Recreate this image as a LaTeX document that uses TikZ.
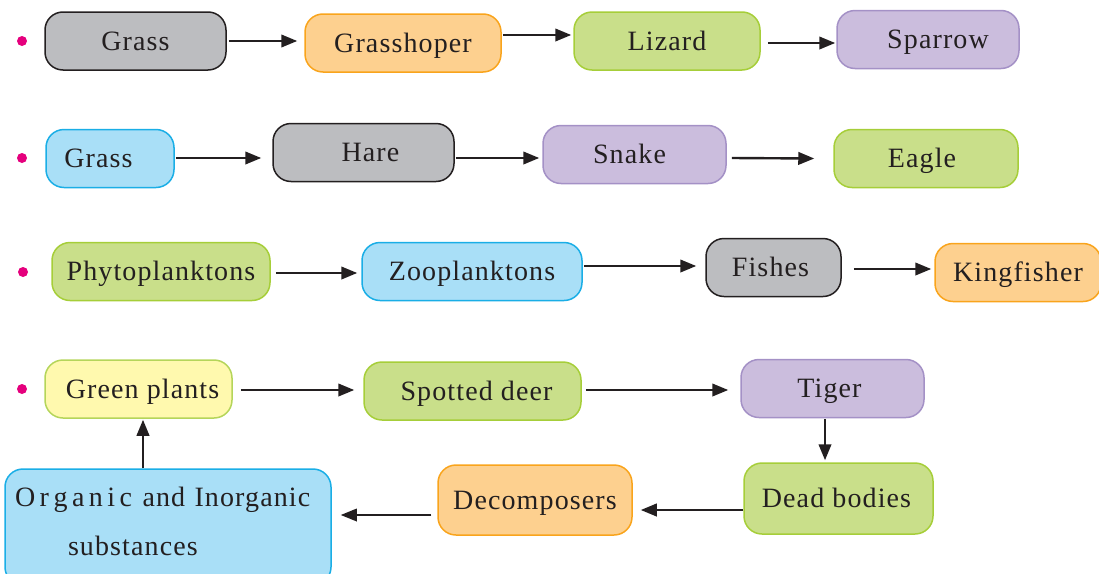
\documentclass[tikz,border=0pt]{standalone}
\usepackage{fontspec}
\setmainfont{Liberation Serif}[LetterSpace=4]
\usetikzlibrary{arrows.meta}
\definecolor{ink}{HTML}{231F20}
\definecolor{grayF}{HTML}{BCBDC0}
\definecolor{orangeF}{HTML}{FDD08F}
\definecolor{orangeD}{HTML}{F9A41C}
\definecolor{greenF}{HTML}{C9DF8A}
\definecolor{greenD}{HTML}{A6CE39}
\definecolor{purpleF}{HTML}{CBBDDD}
\definecolor{purpleD}{HTML}{A491C6}
\definecolor{blueF}{HTML}{A9DFF7}
\definecolor{blueD}{HTML}{1AAEE6}
\definecolor{yellowF}{HTML}{FFF9AE}
\definecolor{yellowD}{HTML}{B5D55A}
\definecolor{dotc}{HTML}{E5007D}
\begin{document}
\begin{tikzpicture}[x=1pt,y=-1pt,
  box/.style={rounded corners=18pt, line width=1.5pt, inner sep=0pt, text=ink,
    font=\fontsize{28}{33}\selectfont, minimum height=58pt, text height=18pt, text depth=0pt},
  graybox/.style={box, fill=grayF, draw=ink},
  orangebox/.style={box, fill=orangeF, draw=orangeD},
  greenbox/.style={box, fill=greenF, draw=greenD},
  purplebox/.style={box, fill=purpleF, draw=purpleD},
  bluebox/.style={box, fill=blueF, draw=blueD},
  yellowbox/.style={box, fill=yellowF, draw=yellowD},
  arr/.style={draw=ink, line width=2.4pt, -{Triangle[length=16pt,width=12.5pt]}},
  dot/.style={circle, fill=dotc, inner sep=0pt, minimum size=10pt}]
\useasboundingbox (0,0) rectangle (1099,573);
\clip (0,0) rectangle (1099,573);

% bullets
\node[dot] (d1) at (22,41) {};
\node[dot] (d2) at (22,158) {};
\node[dot] (d3) at (23,272) {};
\node[dot] (d4) at (22,389) {};

% row 1
\node[graybox, minimum width=181pt] (g1) at (135.5,41) {Grass};
\node[orangebox, minimum width=196pt] (g2) at (403,43) {Grasshoper};
\node[greenbox, minimum width=186pt] (g3) at (667,41) {Lizard};
\node[purplebox, minimum width=182pt] (g4) at (928,39.5) {\hspace*{20pt}Sparrow};

\draw[arr] ([xshift=2pt]g1.east) -- ([xshift=-7pt,yshift=2pt]g2.west);
\draw[arr] ([xshift=1pt,yshift=8pt]g2.east) -- ([xshift=-2pt,yshift=6pt]g3.west);
\draw[arr] ([xshift=7pt,yshift=-2pt]g3.east) -- ([xshift=-1pt,yshift=-3.5pt]g4.west);

% row 2
\node[bluebox, minimum width=128pt] (h1) at (110,158.5) {Grass\hspace*{23pt}};
\node[graybox, minimum width=181pt] (h2) at (363.5,152.5) {\hspace*{14pt}Hare};
\node[purplebox, minimum width=183pt] (h3) at (634.5,154.5) {Snake\hspace*{10pt}};
\node[greenbox, minimum width=184pt] (h4) at (926,158.5) {Eagle\hspace*{8pt}};

\draw[arr] ([xshift=1pt,yshift=0.5pt]h1.east) -- ([xshift=-11pt,yshift=-5.5pt]h2.west);
\draw[arr] ([xshift=1pt,yshift=-5.5pt]h2.east) -- ([xshift=-3pt,yshift=-3.5pt]h3.west);
\draw[arr] ([xshift=5pt,yshift=-3.5pt]h3.east) -- ([xshift=-19pt]h4.west);

% row 3
\node[greenbox, minimum width=218pt] (p1) at (161,271.5) {Phytoplanktons};
\node[bluebox, minimum width=220pt] (p2) at (472,271.5) {Zooplanktons};
\node[graybox, minimum width=135pt] (p3) at (773.5,267.5) {Fishes\hspace*{6pt}};
\node[orangebox, minimum width=166pt] (p4) at (1018,272.5) {Kingfisher};

\draw[arr] ([xshift=5pt,yshift=-1.5pt]p1.east) -- ([xshift=-4pt,yshift=-1.5pt]p2.west);
\draw[arr] ([xshift=1pt,yshift=5.5pt]p2.east) -- ([xshift=-9pt,yshift=1.5pt]p3.west);
\draw[arr] ([xshift=12pt,yshift=-1.5pt]p3.east) -- ([xshift=-3pt,yshift=3.5pt]p4.west);

% row 4
\node[yellowbox, minimum width=187pt] (gp) at (138.5,389) {\hspace*{8pt}Green plants};
\node[greenbox, minimum width=217pt] (sd) at (472.5,391) {\hspace*{8pt}Spotted deer};
\node[purplebox, minimum width=183pt] (tg) at (832.5,388.5) {Tiger\hspace*{6pt}};
\node[greenbox, minimum width=189pt, minimum height=71pt] (db) at (838.5,498.5) {Dead bodies\hspace*{4pt}};
\node[orangebox, minimum width=194pt, minimum height=70pt] (dc) at (535,500) {Decomposers};
\node[bluebox, minimum width=326pt, minimum height=116pt, text height=, text depth=,
      align=left, text width=306pt] (org) at (168,527)
  {O\kern4.5pt r\kern4.5pt g\kern4.5pt a\kern4.5pt n\kern4.5pt i\kern4.5pt c\kern1pt{} and Inorganic\\[16pt]
   \hspace*{53pt}substances\rule[-11pt]{0pt}{11pt}};

\draw[arr] ([xshift=8pt,yshift=-1pt]gp.east) -- ([xshift=-9pt,yshift=1pt]sd.west);
\draw[arr] ([xshift=4pt,yshift=1pt]sd.east) -- ([xshift=-12pt,yshift=-1.5pt]tg.west);
\draw[arr] ([xshift=-7.5pt,yshift=-1pt]tg.south) -- ([xshift=-13.5pt,yshift=2pt]db.north);
\draw[arr] ([yshift=-11.5pt]db.west) -- ([xshift=8pt,yshift=-10pt]dc.east);
\draw[arr, line width=1.8pt] ([xshift=-6pt,yshift=-15pt]dc.west) -- ([xshift=9pt,yshift=12pt]org.east);
\draw[arr] ([xshift=-25pt]org.north) -- ([xshift=4.5pt,yshift=-1pt]gp.south);
\end{tikzpicture}
\end{document}
